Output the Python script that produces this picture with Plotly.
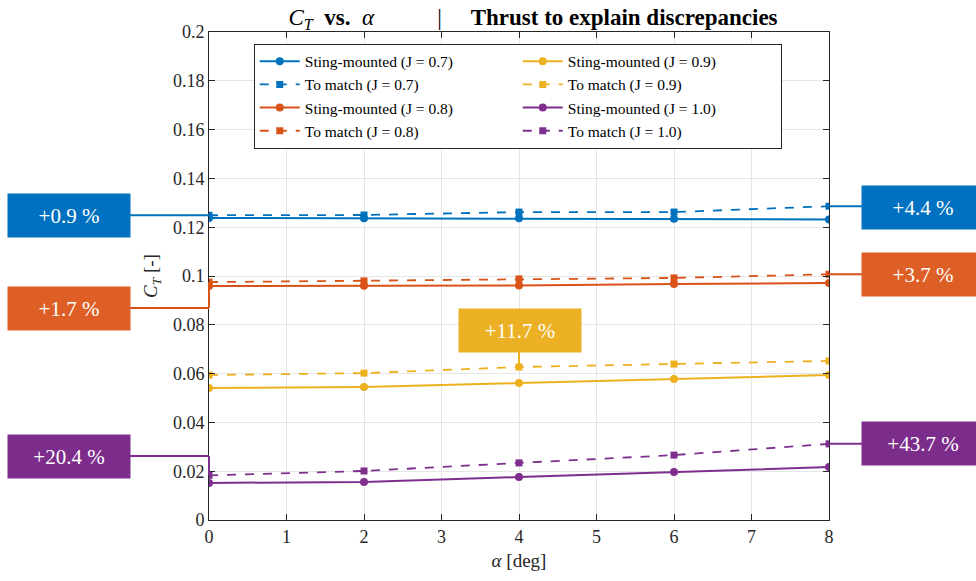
import plotly.graph_objects as go

# Angle of attack [deg]
alpha = [0, 2, 4, 6, 8]

# Thrust coefficient, sting-mounted measurements
ct_sting_07 = [0.1238, 0.1237, 0.1237, 0.1235, 0.1232]
ct_sting_08 = [0.0959, 0.0960, 0.0961, 0.0967, 0.0971]
ct_sting_09 = [0.0541, 0.0545, 0.0561, 0.0578, 0.0594]
ct_sting_10 = [0.0152, 0.0156, 0.0176, 0.0197, 0.0217]

# Thrust coefficient required to match
ct_match_07 = [0.1249, 0.1250, 0.1262, 0.1262, 0.1286]
ct_match_08 = [0.0975, 0.0980, 0.0988, 0.0992, 0.1007]
ct_match_09 = [0.0594, 0.0602, 0.0627, 0.0639, 0.0652]
ct_match_10 = [0.0183, 0.0201, 0.0234, 0.0266, 0.0312]

advance_ratios = ["0.7", "0.8", "0.9", "1.0"]
y_ticks = [0, 0.02, 0.04, 0.06, 0.08, 0.1, 0.12, 0.14, 0.16, 0.18, 0.2]
y_tick_text = ["0", "0.02", "0.04", "0.06", "0.08", "0.1", "0.12", "0.14", "0.16", "0.18", "0.2"]

# Percentage differences labelled on the chart
pct_labels = {
    "0.7": ("+0.9 %", "+4.4 %"),
    "0.8": ("+1.7 %", "+3.7 %"),
    "0.9": ("+11.7 %",),
    "1.0": ("+20.4 %", "+43.7 %"),
}

colors = {"0.7": "#0072BD", "0.8": "#D95319", "0.9": "#EDB120", "1.0": "#7E2F8E"}
box_colors = {"0.7": "#0070C0", "0.8": "#DE5F26", "0.9": "#EBB023", "1.0": "#7C2C8A"}

sting = {"0.7": ct_sting_07, "0.8": ct_sting_08, "0.9": ct_sting_09, "1.0": ct_sting_10}
match = {"0.7": ct_match_07, "0.8": ct_match_08, "0.9": ct_match_09, "1.0": ct_match_10}

SERIF = "'Liberation Serif', 'DejaVu Serif', serif"

fig = go.Figure()

# Legend is filled row-wise in two columns
legend_order = [("S", "0.7"), ("S", "0.9"), ("M", "0.7"), ("M", "0.9"),
                ("S", "0.8"), ("S", "1.0"), ("M", "0.8"), ("M", "1.0")]
for rank, (kind, J) in enumerate(legend_order):
    if kind == "S":
        fig.add_trace(go.Scatter(
            x=alpha, y=sting[J], mode="lines+markers",
            name=f"Sting-mounted (J = {J})",
            line=dict(color=colors[J], width=2),
            marker=dict(symbol="circle", size=8, color=colors[J]),
            legendrank=rank + 1,
        ))
    else:
        fig.add_trace(go.Scatter(
            x=alpha, y=match[J], mode="lines+markers",
            name=f"To match (J = {J})",
            line=dict(color=colors[J], width=1.8, dash="dash"),
            marker=dict(symbol="square", size=7, color=colors[J]),
            legendrank=rank + 1,
        ))

# Plot-area geometry in pixels (used to place the labels outside the axes)
W, H = 976, 581
ML, MR, MT, MB = 209, 147, 32, 61
PW, PH = W - ML - MR, H - MT - MB


def px_x(px):
    return (px - ML) / PW


def px_y(py):
    return (H - MB - py) / PH


def data_y_from_px(py):
    return (H - MB - py) / PH * 0.2


BOX_W, BOX_H = 122, 43


def add_box(text, color, cx, cy):
    fig.add_annotation(
        x=px_x(cx), y=px_y(cy), xref="paper", yref="paper",
        text=text, showarrow=False,
        font=dict(family=SERIF, size=21, color="white"),
        bgcolor=color, width=BOX_W - 4, height=BOX_H - 4, borderpad=2,
        xanchor="center", yanchor="middle",
    )


def hline(x0, x1, y, color):
    fig.add_shape(type="line", xref="paper", yref="y", x0=x0, x1=x1, y0=y, y1=y,
                  line=dict(color=color, width=2), layer="above")


def vline(x, y0, y1, color, xref="paper"):
    fig.add_shape(type="line", xref=xref, yref="y", x0=x, x1=x, y0=y0, y1=y1,
                  line=dict(color=color, width=2), layer="above")


left_box_cx = 8 + BOX_W / 2
right_box_cx = 862 + BOX_W / 2

# J = 0.7 : straight connectors
J = "0.7"
yl = match[J][0]
add_box(pct_labels[J][0], box_colors[J], left_box_cx, H - MB - yl / 0.2 * PH)
hline(px_x(8 + BOX_W), 0, yl, colors[J])
yr = match[J][-1]
add_box(pct_labels[J][1], box_colors[J], right_box_cx, H - MB - yr / 0.2 * PH + 1)
hline(1, px_x(862), yr, colors[J])

# J = 0.8 : left label below, elbow connector
J = "0.8"
cy = 308
add_box(pct_labels[J][0], box_colors[J], left_box_cx, cy)
y_elbow = data_y_from_px(cy)
hline(px_x(8 + BOX_W), 0, y_elbow, colors[J])
vline(0, y_elbow, match[J][0], colors[J])
yr = match[J][-1]
add_box(pct_labels[J][1], box_colors[J], right_box_cx, H - MB - yr / 0.2 * PH)
hline(1, px_x(862), yr, colors[J])

# J = 0.9 : label above the alpha = 4 point
J = "0.9"
box_cx = 520
box_cy = 330
add_box(pct_labels[J][0], box_colors[J], box_cx, box_cy)
x_mid = alpha[2]
fig.add_shape(type="line", xref="x", yref="y", x0=x_mid, x1=x_mid,
              y0=data_y_from_px(box_cy + BOX_H / 2), y1=match[J][2],
              line=dict(color=colors[J], width=2), layer="above")

# J = 1.0 : left label above, elbow connector
J = "1.0"
cy = 456
add_box(pct_labels[J][0], box_colors[J], left_box_cx, cy)
y_elbow = data_y_from_px(cy)
hline(px_x(8 + BOX_W), 0, y_elbow, colors[J])
vline(0, y_elbow, match[J][0], colors[J])
yr = match[J][-1]
add_box(pct_labels[J][1], box_colors[J], right_box_cx, H - MB - yr / 0.2 * PH)
hline(1, px_x(862), yr, colors[J])

axis_common = dict(
    showline=True, linecolor="#262626", linewidth=1, mirror="ticks",
    ticks="inside", ticklen=6, tickcolor="#262626",
    showgrid=True, gridcolor="#E6E6E6", gridwidth=1, zeroline=False,
    tickfont=dict(family=SERIF, size=18, color="#262626"),
)

sp = "&nbsp;"
fig.update_layout(
    width=W, height=H,
    margin=dict(l=ML, r=MR, t=MT, b=MB),
    paper_bgcolor="white", plot_bgcolor="white",
    font=dict(family=SERIF, color="#262626"),
    title=dict(
        text=f"<i>C<sub>T</sub></i>{sp * 2}<b>vs.</b>{sp * 2}<i>α</i>"
             f"{sp * 11}|{sp * 5}<b>Thrust to explain discrepancies</b>",
        x=533 / W, xanchor="center", y=0.985, yanchor="top",
        font=dict(family=SERIF, size=23, color="black"),
    ),
    xaxis=dict(range=[0, 8], dtick=1, tick0=0,
               title=dict(text="<i>α</i> [deg]", standoff=8,
                          font=dict(family=SERIF, size=19, color="#262626")),
               **axis_common),
    yaxis=dict(range=[0, 0.2], tickvals=y_ticks, ticktext=y_tick_text,
               title=dict(text="<i>C<sub>T</sub></i> [-]", standoff=10,
                          font=dict(family=SERIF, size=19, color="#262626")),
               **axis_common),
    legend=dict(
        orientation="h", x=0.498, xanchor="center", y=0.976, yanchor="top",
        entrywidth=208, entrywidthmode="pixels",
        bgcolor="white", bordercolor="#262626", borderwidth=1,
        font=dict(family=SERIF, size=15.5, color="black"),
        tracegroupgap=0, itemwidth=40,
    ),
    showlegend=True,
)

fig.write_html("out.html")
